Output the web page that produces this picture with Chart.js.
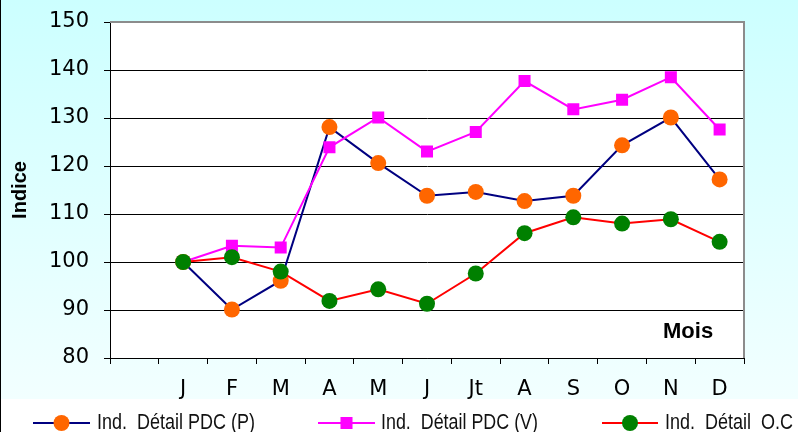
<!DOCTYPE html>
<html><head><meta charset="utf-8">
<script src="https://cdn.jsdelivr.net/npm/chart.js@4/dist/chart.umd.min.js"></script>
<style>html,body{margin:0;padding:0;background:#fff}#wrap{width:798px;height:432px}</style>
</head><body><div id="wrap"><canvas id="c" width="798" height="432"></canvas></div>
<script>
const months = ['', 'J', 'F', 'M', 'A', 'M', 'J', 'Jt', 'A', 'S', 'O', 'N', 'D'];
const seriesP = [null, 100, 90.1, 96.1, 128.1, 120.6, 113.8, 114.6, 112.7, 113.8, 124.3, 130.1, 117.2];
const seriesV = [null, 100, 103.4, 103.0, 123.9, 130.1, 123.0, 127.1, 137.7, 131.8, 133.8, 138.5, 127.6];
const seriesOC = [null, 100, 101.0, 98.0, 91.9, 94.3, 91.3, 97.6, 106.0, 109.3, 108.0, 108.9, 104.2];
const yMin = 80, yMax = 150, yStep = 10;
const seriesNames = ['Ind.  Détail PDC (P)', 'Ind.  Détail PDC (V)', 'Ind.  Détail  O.C'];
const yTitle = 'Indice';
const xTitle = 'Mois';

const FONT = '"Liberation Sans", Arial, sans-serif';
const TICKFONT = '"DejaVu Sans", "Liberation Sans", sans-serif';

const bgPlugin = {
  id: 'bg',
  beforeDraw(chart) {
    const ctx = chart.ctx, W = chart.width, H = chart.height, a = chart.chartArea;
    ctx.save();
    ctx.fillStyle = '#fff';
    ctx.fillRect(0, 0, W, H);
    const g = ctx.createLinearGradient(0, 0, 0, 399);
    g.addColorStop(0, '#CCFFFF');
    g.addColorStop(1, '#F2FFFF');
    ctx.fillStyle = g;
    ctx.fillRect(0, 0, W, 399);
    ctx.fillStyle = '#000';
    ctx.fillRect(0, 0, 1, H);
    ctx.fillStyle = '#fff';
    ctx.fillRect(a.left, a.top, a.right - a.left, a.bottom - a.top);
    ctx.restore();
  },
  beforeDatasetsDraw(chart) {
    const ctx = chart.ctx, a = chart.chartArea;
    ctx.save();
    ctx.strokeStyle = '#8c8c8c';
    ctx.lineWidth = 2;
    ctx.beginPath();
    ctx.moveTo(a.left, a.top);
    ctx.lineTo(a.right, a.top);
    ctx.lineTo(a.right, a.bottom);
    ctx.stroke();
    ctx.fillStyle = '#000';
    ctx.font = 'bold 22px ' + FONT;
    ctx.textAlign = 'left';
    ctx.textBaseline = 'alphabetic';
    ctx.fillText(xTitle, a.right - 81, a.bottom - 20);
    ctx.restore();
  },
  afterDraw(chart) {
    const ctx = chart.ctx;
    const items = [
      {x0: 33, x1: 90, tx: 97, tw: 158},
      {x0: 318, x1: 375, tx: 381, tw: 157},
      {x0: 602, x1: 658, tx: 665, tw: 128}
    ];
    const ly = 423;
    ctx.save();
    items.forEach((it, i) => {
      const ds = chart.data.datasets[i];
      ctx.strokeStyle = ds.borderColor;
      ctx.lineWidth = 2;
      ctx.beginPath();
      ctx.moveTo(it.x0, ly);
      ctx.lineTo(it.x1, ly);
      ctx.stroke();
      ctx.fillStyle = ds.pointBackgroundColor;
      ctx.strokeStyle = ds.pointBorderColor;
      Chart.helpers.drawPoint(ctx, {pointStyle: ds.pointStyle, radius: ds.pointRadius, borderWidth: 0, rotation: 0}, (it.x0 + it.x1) / 2, ly);
      ctx.font = '22px ' + FONT;
      ctx.fillStyle = '#111';
      ctx.textBaseline = 'alphabetic';
      ctx.textAlign = 'left';
      const w = ctx.measureText(seriesNames[i]).width;
      ctx.save();
      ctx.translate(it.tx, 429);
      ctx.scale(it.tw / w, 1);
      ctx.fillText(seriesNames[i], 0, 0);
      ctx.restore();
    });
    ctx.restore();
  }
};

new Chart(document.getElementById('c'), {
  type: 'line',
  data: {
    labels: months,
    datasets: [
      {label: seriesNames[0], data: seriesP, borderColor: '#000080', borderWidth: 2,
       pointBackgroundColor: '#FF6600', pointBorderColor: '#FF6600', pointBorderWidth: 0,
       pointStyle: 'circle', pointRadius: 8, tension: 0, order: 3},
      {label: seriesNames[1], data: seriesV, borderColor: '#FF00FF', borderWidth: 2,
       pointBackgroundColor: '#FF00FF', pointBorderColor: '#FF00FF', pointBorderWidth: 0,
       pointStyle: 'rect', pointRadius: 8.5, tension: 0, order: 2},
      {label: seriesNames[2], data: seriesOC, borderColor: '#FF0000', borderWidth: 2,
       pointBackgroundColor: '#008000', pointBorderColor: '#008000', pointBorderWidth: 0,
       pointStyle: 'circle', pointRadius: 8, tension: 0, order: 1}
    ]
  },
  options: {
    responsive: false,
    animation: false,
    devicePixelRatio: 1,
    layout: {padding: {left: 0, top: 22, right: 54, bottom: 0}},
    plugins: {legend: {display: false}, tooltip: {enabled: false}},
    scales: {
      x: {
        type: 'category',
        offset: true,
        afterFit(s) { s.height = 74; s.paddingLeft = 0; s.paddingRight = 0; },
        grid: {offset: true, drawOnChartArea: false, drawTicks: true, tickLength: 6, color: '#000', lineWidth: 1},
        border: {color: '#000', width: 1},
        ticks: {font: {family: TICKFONT, size: 21}, color: '#000', padding: 13, autoSkip: false, maxRotation: 0}
      },
      y: {
        min: yMin, max: yMax,
        afterFit(s) { s.width = 110; s.paddingTop = 0; s.paddingBottom = 0; },
        grid: {color: (c) => (c.tick && c.tick.value === yMax) ? 'rgba(0,0,0,0)' : '#000', tickColor: '#000', tickLength: 6, lineWidth: 1},
        border: {color: '#000', width: 1},
        ticks: {stepSize: yStep, font: {family: TICKFONT, size: 21}, color: '#000', padding: 15},
        title: {display: true, text: yTitle, color: '#000', font: {family: FONT, size: 20, weight: 'bold'}, padding: {top: 8, bottom: 0}}
      }
    }
  },
  plugins: [bgPlugin]
});
</script>
</body></html>
